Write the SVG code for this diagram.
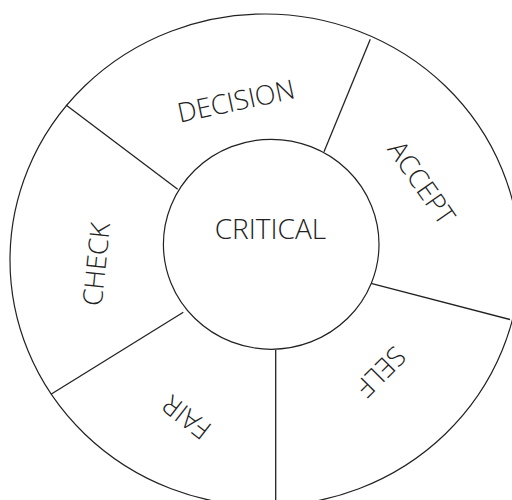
<svg xmlns="http://www.w3.org/2000/svg" width="512" height="500" viewBox="0 0 512 500">
<style>
.shape{fill:#fff;stroke:#222;stroke-width:1.2}
.conn line{stroke:#222;stroke-width:1.3}
.lbl{font-family:"Open Sans","Liberation Sans",sans-serif;font-weight:300;font-size:27px;fill:#222;text-anchor:middle}
.big{font-size:28px}
</style>
<rect width="512" height="500" fill="#fff"/>
<g id="ring">
<ellipse class="shape" cx="265" cy="260" rx="255" ry="246"/>
</g>
<g id="connectors" class="conn">
<line x1="370.3" y1="39.3" x2="324" y2="151.7"/>
<line x1="66" y1="105" x2="177.7" y2="189.3"/>
<line x1="51" y1="394.3" x2="183.3" y2="312.3"/>
<line x1="275.7" y1="350" x2="275.7" y2="505"/>
<line x1="371" y1="283.3" x2="510" y2="319.5"/>
</g>
<g id="critical">
<ellipse class="shape" cx="271.2" cy="244.3" rx="107.8" ry="105"/>
<text class="lbl big" x="270.4" y="229.3" dy="0.357em">CRITICAL</text>
</g>
<g id="decision">
<text class="lbl" x="0" y="0" dy="0.357em" transform="translate(236,101) rotate(-12)">DECISION</text>
</g>
<g id="accept">
<text class="lbl" x="0" y="0" dy="0.357em" transform="translate(421.7,182.5) rotate(55)">ACCEPT</text>
</g>
<g id="check">
<text class="lbl" x="0" y="0" dy="0.357em" transform="translate(96.3,264.3) rotate(-84)">CHECK</text>
</g>
<g id="fair">
<text class="lbl" x="0" y="0" dy="0.357em" transform="translate(186.7,417.5) rotate(-142)">FAIR</text>
</g>
<g id="self">
<text class="lbl" x="0" y="0" dy="0.357em" transform="translate(380.8,371.7) rotate(135)">SELF</text>
</g>
</svg>
